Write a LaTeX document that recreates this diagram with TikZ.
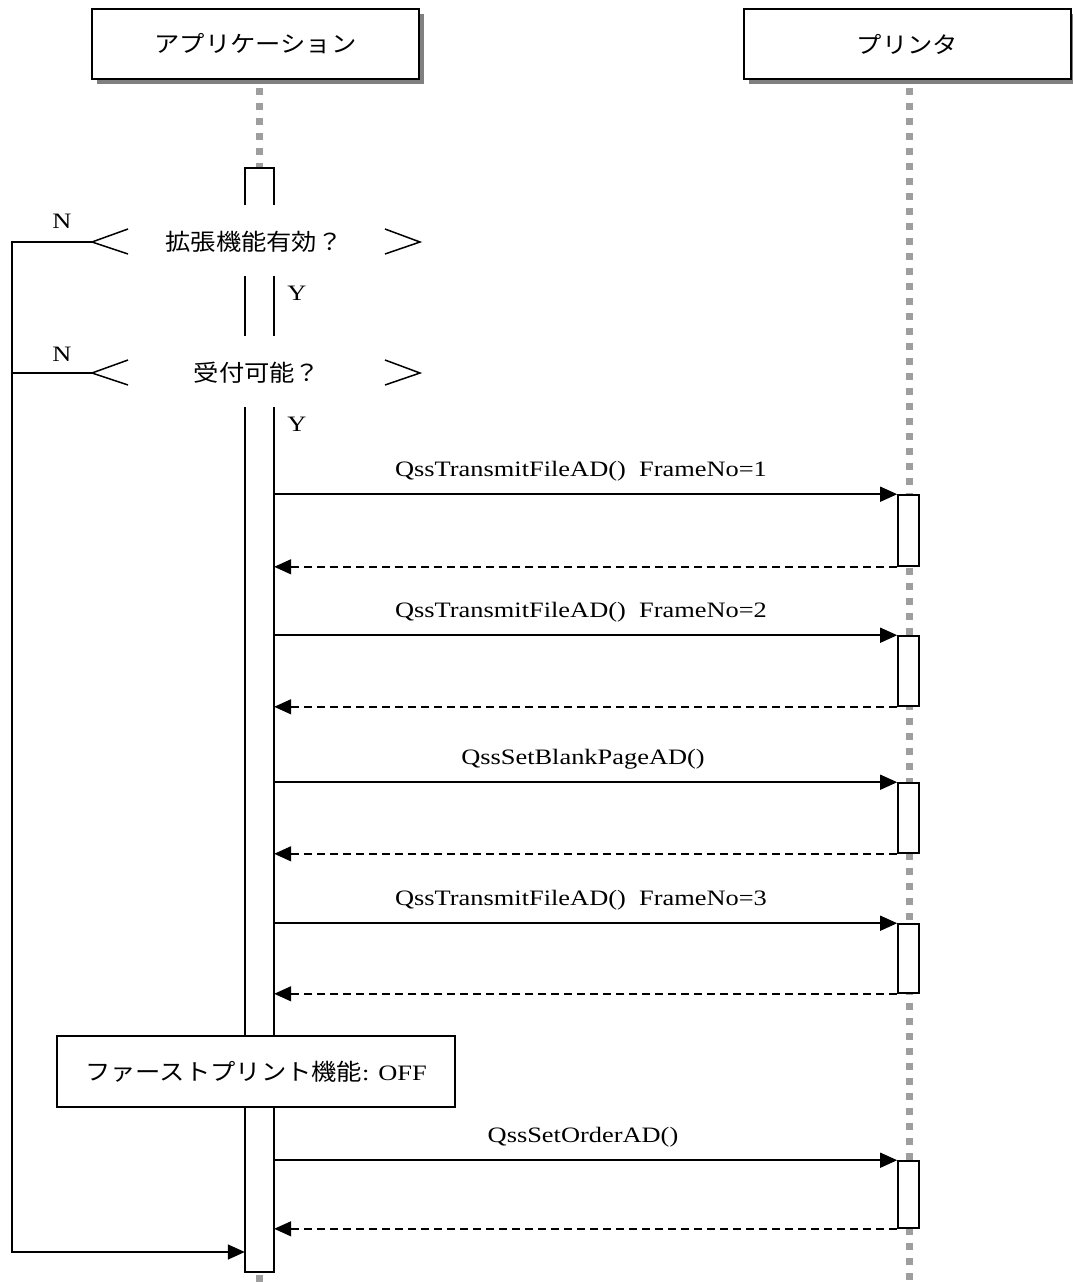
\documentclass[tikz,border=0pt]{standalone}
\usepackage{fontspec}
\setmainfont{Liberation Serif}[FakeStretch=1.2]
\newfontfamily\jp{Noto Sans CJK JP}[FakeStretch=1.1]
\usetikzlibrary{arrows.meta,shadows}
\begin{document}
\begin{tikzpicture}[x=1pt,y=-1pt,
  lat/.style={font=\fontsize{22}{24}\selectfont,inner sep=0pt},
  jpt/.style={font=\jp\fontsize{23}{25}\selectfont,inner sep=0pt},
  head/.style={draw,line width=2.4pt,fill=white,minimum width=327pt,minimum height=70pt,inner sep=0pt,
    font=\jp\fontsize{23}{25}\selectfont,
    drop shadow={shadow xshift=5pt,shadow yshift=-5pt,fill=black!50,opacity=1}},
  life/.style={line width=7pt,color=black!38,dash pattern=on 7pt off 8pt},
  act/.style={draw,line width=1.6pt,fill=white,minimum width=21pt,inner sep=0pt},
  appbox/.style={fill=white,minimum width=29pt,inner sep=0pt},
  edge/.style={line width=1.5pt},
  msg/.style={line width=1.5pt,-{Triangle[length=17pt,width=15pt]}},
  ret/.style={msg,dash pattern=on 8pt off 5pt},
  notebox/.style={draw,line width=1.6pt,fill=white,minimum width=398pt,minimum height=71pt,inner sep=0pt}
]
\useasboundingbox (0,0) rectangle (1072,1282);

% heads
\node[head] (app) at (255.5,44) {アプリケーション};
\node[head] (prn) at (907.5,44) {プリンタ};

% lifelines
\coordinate (alt) at (259.5,88);
\coordinate (alb) at (259.5,168);
\coordinate (plt) at (909,88);
\coordinate (plb) at (909,1292);
\draw[life] (alt) -- (alb);
\draw[life] (plt) -- (plb);
\coordinate (abt) at (259.5,1275);
\coordinate (abb) at (259.5,1290);
\draw[life] (abt) -- (abb);

% app activation (open at the top)
\node[appbox,minimum height=865pt] (appact) at (259.5,839.5) {};
\draw[line width=1.6pt] (appact.north west) -- (appact.south west) -- (appact.south east) -- (appact.north east);
\draw[line width=1.6pt] (245,205) -- (245,168) -- (274,168) -- (274,205);
\draw[line width=1.6pt] (245,276) -- (245,336) (274,276) -- (274,336);

% decisions
\node[jpt] (d1) at (254,242) {拡張機能有効？};
\node[jpt] (d2) at (257,373) {受付可能？};
\draw[edge] (128,229) -- (92,242) -- (128,254);
\draw[edge] (385,229) -- (420,242) -- (385,254);
\draw[edge] (128,360) -- (92,373) -- (128,385);
\draw[edge] (385,360) -- (420,373) -- (385,385);
\coordinate (d1l) at (92,242);
\coordinate (d2l) at (92,373);
\coordinate (lc1) at (12,242);
\coordinate (lc2) at (12,1252);
\node[lat] (n1) at (62,221) {N};
\node[lat] (n2) at (62,354) {N};
\node[lat] (y1) at (297,293) {Y};
\node[lat] (y2) at (297,424) {Y};

% printer activations
\node[act,minimum height=71pt] (p1) at (908.5,530.5) {};
\node[act,minimum height=70pt] (p2) at (908.5,671) {};
\node[act,minimum height=70pt] (p3) at (908.5,818) {};
\node[act,minimum height=69pt] (p4) at (908.5,958.5) {};
\node[act,minimum height=67pt] (p5) at (908.5,1194.5) {};

% messages
\node[lat] (m1) at (581,471) {QssTransmitFileAD()\ \ FrameNo=1};
\draw[msg] (appact.east |- p1.north west) -- (p1.north west);
\draw[ret] (p1.south west) -- (appact.east |- p1.south west);

\node[lat] (m2) at (581,612) {QssTransmitFileAD()\ \ FrameNo=2};
\draw[msg] (appact.east |- p2.north west) -- (p2.north west);
\draw[ret] (p2.south west) -- (appact.east |- p2.south west);

\node[lat] (m3) at (583,759) {QssSetBlankPageAD()};
\draw[msg] (appact.east |- p3.north west) -- (p3.north west);
\draw[ret] (p3.south west) -- (appact.east |- p3.south west);

\node[lat] (m4) at (581,900) {QssTransmitFileAD()\ \ FrameNo=3};
\draw[msg] (appact.east |- p4.north west) -- (p4.north west);
\draw[ret] (p4.south west) -- (appact.east |- p4.south west);

% note
\node[notebox] (note) at (256,1071.5) {\fontsize{22}{24}\selectfont{\jp\fontsize{23}{25}\selectfont ファーストプリント機能}: OFF};

\node[lat] (m5) at (583,1137) {QssSetOrderAD()};
\draw[msg] (appact.east |- p5.north west) -- (p5.north west);
\draw[ret] (p5.south west) -- (appact.east |- p5.south west);

% N branches
\draw[msg] (d1l) -- (lc1) -- (lc2) -- (appact.west |- lc2);
\draw[edge] (d2l) -- (lc1 |- d2l);
\end{tikzpicture}
\end{document}
